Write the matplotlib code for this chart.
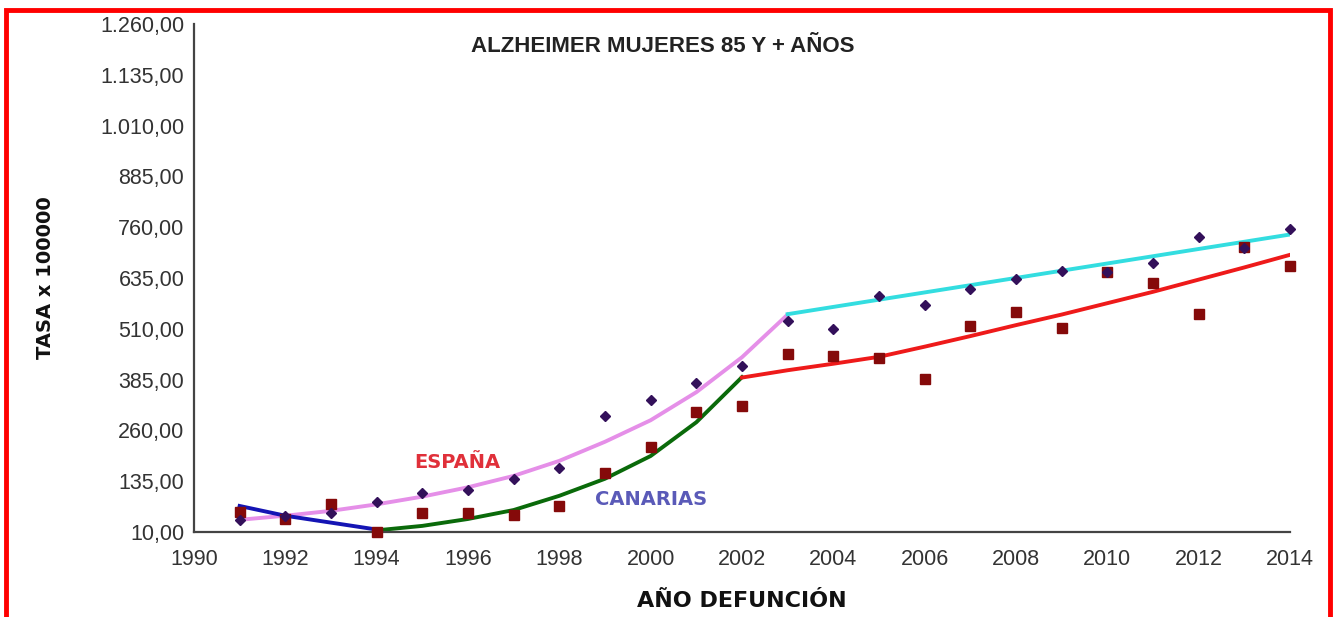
import matplotlib
matplotlib.use("Agg")
import matplotlib.pyplot as plt
from matplotlib.patches import Rectangle

# ---- data ----
years_all = list(range(1991, 2015))
canarias_pts = [40, 49, 57, 84, 106, 113, 140, 168, 295, 335, 377, 418,
                529, 510, 591, 569, 608, 633, 652, 650, 672, 736, 709, 756]
espana_pts = [59, 42, 79, 10, 57, 57, 52, 74, 155, 219, 305, 320,
              448, 443, 438, 387, 517, 551, 512, 650, 623, 546, 711, 665]

# trend lines
pink_years = list(range(1991, 2004))
pink_vals = [40, 50, 62, 78, 97, 120, 148, 185, 232, 285, 354, 440, 545]
cyan_years = [2003, 2014]
cyan_vals = [546, 742]
blue_years = [1991, 1992, 1993, 1994]
blue_vals = [74, 50, 33, 16]
green_years = list(range(1994, 2003))
green_vals = [14, 25, 42, 64, 99, 141, 197, 280, 391]
red_years = list(range(2002, 2015))
red_vals = [390, 408, 424, 441, 466, 492, 519, 545, 573, 601, 631, 661, 692]

y_ticks = [10, 135, 260, 385, 510, 635, 760, 885, 1010, 1135, 1260]
y_ticklabels = ["10,00", "135,00", "260,00", "385,00", "510,00", "635,00",
                "760,00", "885,00", "1.010,00", "1.135,00", "1.260,00"]
x_ticks = list(range(1990, 2015, 2))

plt.rcParams['font.family'] = ['Liberation Sans', 'DejaVu Sans']

fig = plt.figure(figsize=(13.35, 6.17), dpi=100)
ax = fig.add_axes([0.1453, 0.1378, 0.9663 - 0.1453, 0.9611 - 0.1378])

lw = 2.8
ax.plot(pink_years, pink_vals, color='#e58fe8', lw=lw, zorder=2)
ax.plot(cyan_years, cyan_vals, color='#33dde0', lw=lw, zorder=2)
ax.plot(blue_years, blue_vals, color='#1414b4', lw=lw, zorder=2)
ax.plot(green_years, green_vals, color='#0a6a0a', lw=lw, zorder=2)
ax.plot(red_years, red_vals, color='#ee1a1a', lw=lw, zorder=2)

ax.plot(years_all, espana_pts, linestyle='none', marker='s', markersize=7,
        color='#850a0a', zorder=3, clip_on=False)
ax.plot(years_all, canarias_pts, linestyle='none', marker='D', markersize=4.8,
        color='#33105a', zorder=4, clip_on=False)

ax.set_xlim(1990, 2014)
ax.set_ylim(10, 1260)
ax.set_yticks(y_ticks)
ax.set_yticklabels(y_ticklabels)
ax.set_xticks(x_ticks)
ax.tick_params(axis='both', length=0, labelsize=15.5, labelcolor='#333333')
ax.tick_params(axis='y', pad=7)
ax.tick_params(axis='x', pad=12)
for s in ['top', 'right']:
    ax.spines[s].set_visible(False)
for s in ['left', 'bottom']:
    ax.spines[s].set_color('#444444')
    ax.spines[s].set_linewidth(1.6)

ax.set_xlabel('AÑO DEFUNCIÓN', fontsize=16, fontweight='bold', color='#111111',
              family='DejaVu Sans')
ax.xaxis.set_label_coords(0.5, -0.117)
ax.set_ylabel('TASA x 100000', fontsize=14, fontweight='bold', color='#111111',
              family='DejaVu Sans')
ax.yaxis.set_label_coords(-0.127, 0.5)

ax.text(0.428, 0.955, 'ALZHEIMER MUJERES 85 Y + AÑOS', transform=ax.transAxes,
        ha='center', va='center', fontsize=16, fontweight='bold', color='#222222')
ax.text(1995.76, 180, 'ESPAÑA', ha='center', va='center', fontsize=14,
        fontweight='bold', color='#e0303a', family='DejaVu Sans')
ax.text(2000.0, 89, 'CANARIAS', ha='center', va='center', fontsize=14,
        fontweight='bold', color='#5a5ab8', family='DejaVu Sans')

# red frame
fig.patches.append(Rectangle((6 / 1335, -0.05), (1330 - 6) / 1335, 1.05 - 10 / 617,
                             transform=fig.transFigure, fill=False,
                             edgecolor='#ff0000', linewidth=3.5, zorder=10))

fig.savefig('out.png', dpi=100, facecolor='white')
